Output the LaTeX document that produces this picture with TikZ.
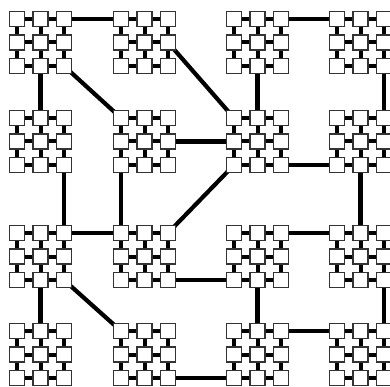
\documentclass[tikz,border=0pt]{standalone}
\usepackage{tikz}
\usetikzlibrary{backgrounds}

\begin{document}
\begin{tikzpicture}[
  x=1pt, y=-1pt,
  cell/.style={rectangle, draw=black!80, line width=1.2pt, fill=white,
    minimum size=15pt, inner sep=0pt},
  mesh/.style={line width=4pt, draw=black},
  bus/.style={line width=4.2pt, draw=black},
]
\useasboundingbox (0,0) rectangle (390,387);
% tiles: name / centre of the top-left cell
\foreach \t/\x/\y in {a1/17/19, a2/17/118, a3/17/233, a4/17/331,
                      b1/121/19, b2/121/118, b3/121/233, b4/121/331,
                      c1/234/19, c2/234/118, c3/234/233, c4/234/331,
                      d1/337/19, d2/337/118, d3/337/233, d4/337/331} {
  \foreach \i in {0,1,2} \foreach \j in {0,1,2}
    \node[cell] (\t-\i\j) at (\x+23.5*\i, \y+23.5*\j) {};
  \begin{scope}[on background layer]
    \foreach \i [evaluate=\i as \k using int(\i+1)] in {0,1}
      \foreach \j in {0,1,2} {
        \draw[mesh] (\t-\i\j.center) -- (\t-\k\j.center);
        \draw[mesh] (\t-\j\i.center) -- (\t-\j\k.center);
      }
  \end{scope}
}
% links between tiles
\begin{scope}[on background layer]
\foreach \p/\q in {a1-20/b1-00, a1-12/a2-10, a1-22/b2-00, b1-21/c2-00,
                   b2-21/c2-01, a2-22/a3-20, b2-02/b3-00, c2-02/b3-20,
                   c1-12/c2-10, c1-20/d1-00, d1-22/d2-20, c2-22/d2-02,
                   d2-12/d3-10, a3-20/b3-00, a3-12/a4-10, a3-22/b4-00,
                   b3-22/c3-02, c3-20/d3-00, c3-12/c4-10, d3-22/d4-20,
                   c4-20/d4-00, b4-22/c4-02}
  \draw[bus] (\p.center) -- (\q.center);
\end{scope}
\end{tikzpicture}
\end{document}
